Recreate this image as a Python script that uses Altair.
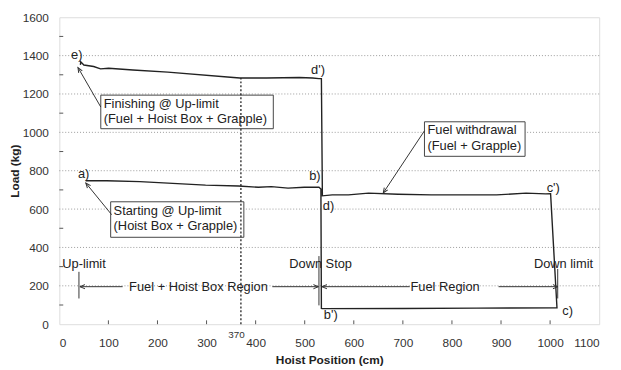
import math
import altair as alt
import pandas as pd

W, H = 547, 311
FONT = "Liberation Sans"

# ---- measured trace (hoist position cm, load kg), in the order it was recorded ----
trace_x = [53.7, 96.5, 164, 231, 298, 365, 405.6, 432, 466, 499, 529, 533,
           534, 536, 700, 850, 1014,
           1001, 991, 951, 891, 824, 758, 690, 630, 589, 556, 536,
           534, 529, 516, 489, 422, 368, 355, 221, 150, 100.5, 84, 70, 50, 43.6, 43]
trace_y = [748, 748, 743, 734, 725, 720, 714, 717, 709, 714, 714, 705,
           82, 81, 82, 84, 85,
           680, 679, 683, 674, 674, 674, 677, 683, 674, 674, 669,
           1280, 1280, 1283, 1286, 1283, 1283, 1286, 1314, 1325, 1334, 1331, 1343, 1351, 1368, 1352]

x_ticks = list(range(0, 1101, 100))
y_ticks = list(range(0, 1601, 200))
grid_y = [200, 400, 600, 800, 1000, 1200, 1400]
minor_y = [100, 300, 500, 700, 900, 1100, 1300, 1500]
inner_x = [100, 200, 300, 400, 500, 600, 700, 800, 900, 1000]

# annotation boxes
box_x = [84.5, 104.6, 744]
box_x2 = [436, 376, 949]
box_y = [1194, 638, 1055]
box_y2 = [1019, 453, 875]

# text labels
lab_text = ["e)", "d')", "a)", "b)", "d)", "c')", "c)", "b')",
            "Finishing @ Up-limit", "(Fuel + Hoist Box + Grapple)",
            "Starting @ Up-limit", "(Hoist Box + Grapple)",
            "Fuel withdrawal", "(Fuel + Grapple)",
            "Up-limit", "Down Stop", "Down limit",
            "Fuel + Hoist Box Region", "Fuel Region"]
lab_x = [24, 513, 38, 509, 537, 993, 1025, 539,
         90.5, 90.5, 110.6, 110.6, 750, 750,
         6, 468.5, 967, 283.5, 786]
lab_y = [1404, 1327, 782, 772, 617, 712, 67, 46,
         1147, 1070, 592, 514, 1013, 931,
         314, 314, 314, 195.5, 195.5]
lab_align = ["left"] * 17 + ["center", "center"]

# straight lines: marker bars, region arrows, pointer arrows
seg_x = [40, 529, 1015.5, 42, 434, 535, 895, 84.5, 106.6, 744]
seg_x2 = [40, 529, 1015.5, 129, 528, 714, 1016, 38, 54, 660]
seg_y = [273, 355, 288, 195.5, 195.5, 195.5, 195.5, 1132, 571, 1008]
seg_y2 = [134, 98, 134, 195.5, 195.5, 195.5, 195.5, 1338, 736, 684]

# arrow heads: (tail, tip)
head_tail_x = [129, 434, 714, 895, 84.5, 106.6, 744]
head_tail_y = [195.5, 195.5, 195.5, 195.5, 1132, 571, 1008]
head_x = [42, 528, 535, 1016, 38, 54, 660]
head_y = [195.5, 195.5, 195.5, 195.5, 1338, 736, 684]

marker_370 = 370
marker_370_top = 1283
marker_370_label_x = 361
marker_370_label_y = -55

# ---------------------------------------------------------------------------
sx, sy = W / 1100, H / 1600
angles = []
for tx, ty, hx, hy in zip(head_tail_x, head_tail_y, head_x, head_y):
    px = (hx - tx) * sx
    py = -(hy - ty) * sy
    angles.append(math.degrees(math.atan2(px, -py)) % 360)

xs = alt.Scale(domain=[0, 1100], nice=False, zero=False)
ys = alt.Scale(domain=[0, 1600], nice=False, zero=False)

xaxis = alt.Axis(values=x_ticks, format="d", title="Hoist Position (cm)", ticks=False,
                 tickSize=0, domain=False, grid=False, labelFont=FONT, labelFontSize=12,
                 labelColor="#333", labelPadding=14, titleFont=FONT, titleFontSize=12,
                 titleFontWeight="bold", titleColor="#222", titleY=36,
                 titleBaseline="middle")
yaxis = alt.Axis(values=y_ticks, format="d", title="Load (kg)", ticks=False, tickSize=0,
                 domain=False, grid=False, labelFont=FONT, labelFontSize=12,
                 labelColor="#333", labelPadding=11, titleFont=FONT, titleFontSize=12,
                 titleFontWeight="bold", titleColor="#222", titleAngle=270,
                 titleX=-45, titleY=H / 2, titleBaseline="middle", titleAlign="center")


def X(f):
    return alt.X(f, type="quantitative", scale=xs, axis=xaxis)


def Y(f):
    return alt.Y(f, type="quantitative", scale=ys, axis=yaxis)


trace = pd.DataFrame({"x": trace_x, "y": trace_y, "i": range(len(trace_x))})
grid = pd.DataFrame({"y": grid_y, "x": [0] * len(grid_y), "x2": [1100] * len(grid_y)})
boxes = pd.DataFrame({"x": box_x, "x2": box_x2, "y": box_y, "y2": box_y2})
labels = pd.DataFrame({"x": lab_x, "y": lab_y, "t": lab_text, "a": lab_align})
segs = pd.DataFrame({"x": seg_x, "x2": seg_x2, "y": seg_y, "y2": seg_y2})
heads = pd.DataFrame({"x": head_x, "y": head_y, "ang": angles})
xt = pd.DataFrame({"x": inner_x, "y": [0] * len(inner_x), "y2": [20] * len(inner_x)})
yt = pd.DataFrame({"y": minor_y, "x": [0] * len(minor_y), "x2": [8] * len(minor_y)})
m370 = pd.DataFrame({"x": [marker_370], "y": [0], "y2": [marker_370_top],
                     "t": [str(marker_370)], "lx": [marker_370_label_x],
                     "ly": [marker_370_label_y]})

grid_layer = alt.Chart(grid).mark_rule(color="#9a9a9a", strokeDash=[1, 2], strokeWidth=1).encode(
    x=X("x"), x2="x2:Q", y=Y("y"))

box_layer = alt.Chart(boxes).mark_rect(fill="white", stroke="#444", strokeWidth=1).encode(
    x=X("x"), x2="x2:Q", y=Y("y"), y2="y2:Q")

line370 = alt.Chart(m370).mark_rule(color="#222", strokeDash=[2, 2], strokeWidth=1.3).encode(
    x=X("x"), y=Y("y"), y2="y2:Q")

text370 = alt.Chart(m370).mark_text(font=FONT, fontSize=10, color="#333").encode(
    x=X("lx"), y=Y("ly"), text="t:N")

xtick_layer = alt.Chart(xt).mark_rule(color="#555", strokeWidth=1).encode(
    x=X("x"), y=Y("y"), y2="y2:Q")
ytick_layer = alt.Chart(yt).mark_rule(color="#555", strokeWidth=1).encode(
    y=Y("y"), x=X("x"), x2="x2:Q")

trace_layer = alt.Chart(trace).mark_line(color="#222", strokeWidth=1.4).encode(
    x=X("x"), y=Y("y"), order="i:Q")

seg_layer = alt.Chart(segs).mark_rule(color="#333", strokeWidth=1).encode(
    x=X("x"), x2="x2:Q", y=Y("y"), y2="y2:Q")

head_layer = alt.Chart(heads).mark_point(
    shape="M -0.7 1.7 L 0 0 L 0.7 1.7", size=36, filled=False, color="#333",
    strokeWidth=1, opacity=1).encode(
    x=X("x"), y=Y("y"), angle=alt.Angle("ang:Q", scale=None))

left_labels = alt.Chart(labels[labels["a"] == "left"]).mark_text(
    font=FONT, fontSize=13, color="#222", align="left", baseline="middle").encode(
    x=X("x"), y=Y("y"), text="t:N")
center_labels = alt.Chart(labels[labels["a"] == "center"]).mark_text(
    font=FONT, fontSize=13, color="#222", align="center", baseline="middle").encode(
    x=X("x"), y=Y("y"), text="t:N")

chart = alt.layer(
    grid_layer, box_layer, line370, xtick_layer, ytick_layer, trace_layer,
    seg_layer, head_layer, left_labels, center_labels, text370
).properties(
    width=W, height=H,
    autosize=alt.AutoSizeParams(type="none"),
    padding={"left": 52, "top": 7, "right": 14, "bottom": 40},
).configure_view(stroke="#555", strokeWidth=1.2).configure(background="white")

chart.save("out.html", embed_options={"renderer": "svg", "actions": False})
